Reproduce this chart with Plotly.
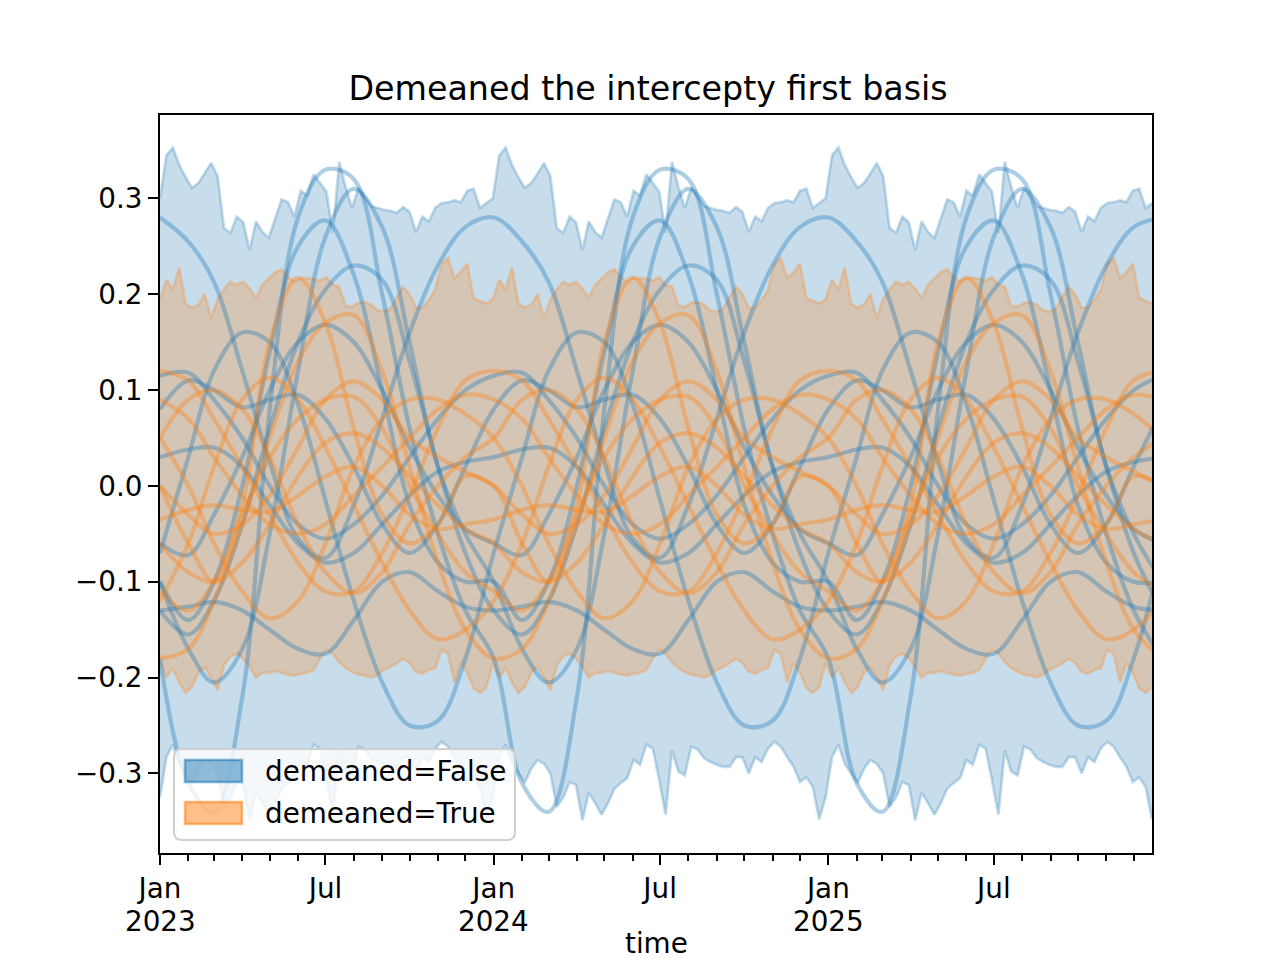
import pandas as pd
import plotly.graph_objects as go

# ---------------- data ----------------
# weekly band edges over one seasonal cycle (52 weeks, starting first week of January)
blue_upper = [0.300, 0.345, 0.353, 0.335, 0.322, 0.311, 0.316, 0.326, 0.337, 0.323,
              0.269, 0.264, 0.281, 0.275, 0.246, 0.276, 0.265, 0.259, 0.280, 0.299,
              0.296, 0.281, 0.308, 0.303, 0.325, 0.316, 0.307, 0.264, 0.338, 0.312,
              0.290, 0.311, 0.302, 0.292, 0.290, 0.288, 0.287, 0.285, 0.291, 0.286,
              0.265, 0.281, 0.276, 0.290, 0.295, 0.296, 0.298, 0.296, 0.308, 0.310,
              0.290, 0.295]
blue_lower = [-0.325, -0.283, -0.270, -0.290, -0.300, -0.310, -0.295, -0.286, -0.290, -0.300,
              -0.335, -0.325, -0.309, -0.312, -0.349, -0.320, -0.331, -0.343, -0.331, -0.316,
              -0.310, -0.305, -0.286, -0.291, -0.270, -0.274, -0.307, -0.343, -0.276, -0.298,
              -0.302, -0.272, -0.275, -0.284, -0.288, -0.291, -0.293, -0.293, -0.283, -0.283,
              -0.300, -0.283, -0.288, -0.274, -0.267, -0.272, -0.283, -0.293, -0.309, -0.304,
              -0.314, -0.348]
orange_upper = [0.195, 0.215, 0.205, 0.228, 0.190, 0.186, 0.189, 0.200, 0.175, 0.195,
                0.205, 0.213, 0.210, 0.213, 0.206, 0.196, 0.210, 0.217, 0.223, 0.226,
                0.218, 0.213, 0.217, 0.217, 0.216, 0.214, 0.218, 0.210, 0.208, 0.188,
                0.187, 0.191, 0.192, 0.189, 0.183, 0.182, 0.185, 0.197, 0.208, 0.200,
                0.186, 0.186, 0.194, 0.205, 0.231, 0.238, 0.217, 0.223, 0.232, 0.196,
                0.193, 0.190]
orange_lower = [-0.185, -0.200, -0.190, -0.205, -0.216, -0.210, -0.195, -0.189, -0.200, -0.213,
                -0.187, -0.178, -0.175, -0.180, -0.189, -0.200, -0.195, -0.195, -0.193, -0.195,
                -0.197, -0.198, -0.196, -0.195, -0.192, -0.180, -0.171, -0.175, -0.184, -0.190,
                -0.194, -0.197, -0.198, -0.200, -0.197, -0.192, -0.189, -0.185, -0.180, -0.185,
                -0.194, -0.196, -0.192, -0.190, -0.171, -0.175, -0.205, -0.185, -0.195, -0.211,
                -0.216, -0.210]

# monthly values (1st of Jan .. 1st of Dec) of the sample curves, one seasonal cycle
blue_curves = [
    [0.280, 0.255, 0.213, 0.120, 0.025, -0.055, -0.075, -0.020, 0.070, 0.160, 0.230, 0.270],
    [-0.180, -0.310, -0.340, -0.220, 0.080, 0.280, 0.330, 0.320, 0.200, 0.060, -0.050, -0.130],
    [-0.100, -0.170, -0.205, -0.170, -0.050, 0.120, 0.260, 0.310, 0.270, 0.150, 0.020, -0.050],
    [-0.130, -0.155, -0.120, -0.040, 0.060, 0.150, 0.205, 0.230, 0.215, 0.130, 0.020, -0.070],
    [-0.070, 0.030, 0.120, 0.160, 0.150, 0.085, -0.015, -0.120, -0.205, -0.250, -0.245, -0.180],
    [-0.060, -0.072, -0.030, 0.030, 0.100, 0.150, 0.168, 0.150, 0.100, 0.040, -0.010, -0.045],
    [0.115, 0.118, 0.090, 0.050, 0.000, -0.040, -0.055, -0.040, -0.010, 0.030, 0.070, 0.100],
    [0.080, 0.110, 0.100, 0.082, 0.090, 0.095, 0.070, 0.020, -0.040, -0.070, -0.040, 0.020],
    [0.030, 0.038, 0.040, 0.020, -0.020, -0.060, -0.080, -0.070, -0.040, -0.010, 0.015, 0.025],
    [-0.130, -0.126, -0.121, -0.130, -0.150, -0.170, -0.175, -0.140, -0.100, -0.090, -0.110, -0.126],
    [-0.100, -0.140, -0.100, 0.000, 0.140, 0.250, 0.277, 0.220, 0.100, -0.020, -0.080, -0.100],
]
orange_curves = [
    [0.000, -0.060, -0.100, -0.020, 0.150, 0.217, 0.170, 0.060, -0.030, -0.060, -0.040, 0.010],
    [0.120, 0.110, 0.070, 0.020, -0.030, -0.080, -0.110, -0.110, -0.070, -0.010, 0.060, 0.110],
    [-0.120, -0.060, 0.020, 0.090, 0.113, 0.090, 0.040, -0.020, -0.080, -0.130, -0.160, -0.150],
    [0.090, 0.070, 0.030, -0.010, -0.040, -0.050, -0.040, -0.010, 0.020, 0.050, 0.080, 0.095],
    [-0.035, -0.025, -0.020, -0.025, -0.027, -0.010, 0.010, 0.020, 0.000, -0.030, -0.045, -0.040],
    [0.050, 0.000, -0.060, -0.110, -0.138, -0.120, -0.060, 0.020, 0.070, 0.090, 0.090, 0.075],
    [-0.180, -0.170, -0.120, -0.040, 0.050, 0.130, 0.170, 0.178, 0.120, 0.020, -0.080, -0.150],
    [-0.110, -0.130, -0.100, -0.030, 0.030, 0.070, 0.090, 0.093, 0.060, 0.000, -0.050, -0.090],
    [0.000, -0.030, -0.050, -0.040, -0.010, 0.040, 0.090, 0.109, 0.090, 0.050, 0.030, 0.015],
    [-0.060, -0.090, -0.100, -0.080, -0.040, 0.010, 0.045, 0.055, 0.040, 0.010, -0.020, -0.045],
    [0.050, 0.090, 0.100, 0.080, 0.030, -0.040, -0.090, -0.112, -0.090, -0.040, 0.000, 0.030],
]

years = [2023, 2024, 2025]
title_text = "Demeaned the intercepty first basis"
legend_names = ["demeaned=False", "demeaned=True"]
x_title = "time"
y_ticks = [-0.3, -0.2, -0.1, 0.0, 0.1, 0.2, 0.3]
y_tick_text = ["\u22120.3", "\u22120.2", "\u22120.1", "0.0", "0.1", "0.2", "0.3"]

# ---------------- build series ----------------
n_years = len(years)
weeks = pd.date_range("2023-01-01", periods=52 * n_years, freq="7D")
months = pd.date_range("2023-01-01", periods=12 * n_years + 1, freq="MS")


def cycle(vals, n):
    out = []
    for _ in range(n):
        out.extend(vals)
    return out


BLUE = "31,119,180"
ORANGE = "255,127,14"

fig = go.Figure()


def add_band(lower, upper, rgb, name):
    lo = cycle(lower, n_years)
    up = cycle(upper, n_years)
    fig.add_trace(go.Scatter(x=weeks, y=lo, mode="lines",
                             line=dict(color=f"rgba({rgb},0.26)", width=2.8),
                             showlegend=False, hoverinfo="skip"))
    fig.add_trace(go.Scatter(x=weeks, y=up, mode="lines", fill="tonexty",
                             fillcolor=f"rgba({rgb},0.25)",
                             line=dict(color=f"rgba({rgb},0.26)", width=2.8),
                             name=name, showlegend=False, hoverinfo="skip"))


def add_curves(curves, rgb, alpha):
    for c in curves:
        vals = cycle(c, n_years) + [c[0]]
        fig.add_trace(go.Scatter(x=months, y=vals, mode="lines",
                                 line=dict(color=f"rgba({rgb},{alpha})", width=4.2,
                                           shape="spline", smoothing=1.0),
                                 showlegend=False, hoverinfo="skip"))


add_band(blue_lower, blue_upper, BLUE, legend_names[0])
add_band(orange_lower, orange_upper, ORANGE, legend_names[1])
add_curves(blue_curves, BLUE, 0.36)
add_curves(orange_curves, ORANGE, 0.36)

# ---------------- axes ----------------
major_vals, major_text, minor_vals = [], [], []
for y in years:
    for m in range(1, 13):
        d = pd.Timestamp(year=y, month=m, day=1)
        if m == 1:
            major_vals.append(d)
            major_text.append("Jan")
        elif m == 7:
            major_vals.append(d)
            major_text.append("Jul")
        else:
            minor_vals.append(d)

FONT = "DejaVu Sans"
FS = 27.8
# the page body adds 8px offset; margins compensate so the axes box sits at 160..1152 x 115..853
fig.update_layout(
    width=1280, height=960,
    margin=dict(l=152, r=136, t=107, b=115),
    paper_bgcolor="white", plot_bgcolor="white",
    font=dict(family=FONT, size=FS, color="black"),
    title=dict(text=title_text, x=0.5, xanchor="center", y=1 - 80 / 960,
               yanchor="middle", font=dict(family=FONT, size=33.3, color="black")),
    showlegend=False,
)
fig.update_xaxes(
    range=[weeks[0], weeks[-1]],
    tickmode="array", tickvals=major_vals, ticktext=major_text,
    ticks="outside", ticklen=10, tickwidth=2, tickcolor="black",
    showline=True, linecolor="black", linewidth=2, mirror=True,
    showgrid=False, zeroline=False,
    tickfont=dict(family=FONT, size=FS, color="black"),
    minor=dict(tickmode="array", tickvals=minor_vals, ticks="outside",
               ticklen=6, tickwidth=1.6, tickcolor="black", showgrid=False),
)
fig.update_yaxes(
    range=[-0.383, 0.387],
    tickmode="array", tickvals=y_ticks, ticktext=y_tick_text,
    ticks="outside", ticklen=10, tickwidth=2, tickcolor="black",
    showline=True, linecolor="black", linewidth=2, mirror=True,
    showgrid=False, zeroline=False,
    tickfont=dict(family=FONT, size=FS, color="black"),
)

# year line under the January tick labels
for y in years:
    fig.add_annotation(text=str(y), x=pd.Timestamp(year=y, month=1, day=1), xref="x",
                       yref="paper", y=(853 - 921) / 738, xanchor="center", yanchor="middle",
                       showarrow=False, font=dict(family=FONT, size=FS, color="black"))

fig.add_annotation(text=x_title, xref="paper", yref="paper", x=0.5, y=(853 - 925) / 738,
                   xanchor="center", yanchor="top", showarrow=False,
                   font=dict(family=FONT, size=FS, color="black"))

# ---------------- legend (matplotlib style, drawn in paper coordinates) ----------------
def px(X):
    return (X - 160) / 992


def py(Y):
    return (853 - Y) / 738


x0, x1, y0, y1 = px(174), px(515), py(840), py(749)
rx, ry = 8 / 992, 8 / 738
box = (f"M {x0 + rx},{y0} L {x1 - rx},{y0} Q {x1},{y0} {x1},{y0 + ry} "
       f"L {x1},{y1 - ry} Q {x1},{y1} {x1 - rx},{y1} L {x0 + rx},{y1} "
       f"Q {x0},{y1} {x0},{y1 - ry} L {x0},{y0 + ry} Q {x0},{y0} {x0 + rx},{y0} Z")
fig.add_shape(type="path", path=box, xref="paper", yref="paper",
              fillcolor="rgba(255,255,255,0.8)", line=dict(color="#d0d0d0", width=2),
              layer="above")
for i, (name, rgb) in enumerate(zip(legend_names, [BLUE, ORANGE])):
    yc = 771 + 42 * i
    fig.add_shape(type="rect", xref="paper", yref="paper",
                  x0=px(185), x1=px(242), y0=py(yc + 11), y1=py(yc - 11),
                  fillcolor=f"rgba({rgb},0.5)", line=dict(color=f"rgba({rgb},0.55)", width=2.5),
                  layer="above")
    fig.add_annotation(text=name, xref="paper", yref="paper", x=px(263), y=py(yc),
                       xanchor="left", yanchor="middle", showarrow=False,
                       font=dict(family=FONT, size=FS, color="black"))

fig.write_html("out.html")
